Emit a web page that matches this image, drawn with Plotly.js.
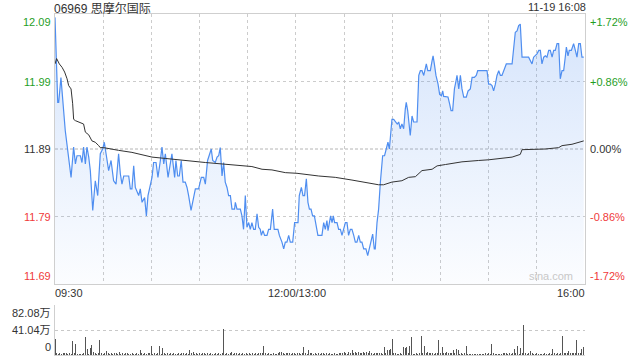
<!DOCTYPE html>
<html><head><meta charset="utf-8">
<script src="https://cdn.plot.ly/plotly-3.0.1.min.js"></script>
<style>html,body{margin:0;padding:0;background:#fff;}#chart{width:640px;height:360px;}</style>
</head><body><div id="chart"></div>
<script>
const stockTitle = '06969 思摩尔国际';
const stampText = '11-19 16:08';
const watermark = 'sina.com';
const prevClose = 11.89;

// minutes since 09:30 on a continuous trading axis (12:00 and 13:00 merged at 150)
const priceTime = [0,1.7,2.3,3.7,6.4,10.0,11.6,12.7,13.7,15.8,16.8,17.8,18.9,19.9,21.0,22.0,23.5,25.1,26.6,28.2,29.7,30.7,31.8,33.4,34.9,36.5,38.0,39.6,40.7,41.7,42.8,45.9,46.9,47.9,49.0,50.0,52.1,53.1,54.2,55.8,56.9,57.9,60.4,61.4,62.9,64.1,65.6,66.6,67.7,68.7,70.4,71.8,72.8,74.5,75.3,76.4,77.4,78.6,79.7,81.1,82.2,83.2,84.7,86.3,87.4,89.4,91.1,92.6,93.6,95.0,96.1,97.3,98.2,99.8,100.9,101.9,102.9,104.0,105.0,106.0,107.1,108.1,109.2,110.2,111.8,112.3,113.3,115.4,116.4,117.4,118.5,119.5,120.6,121.6,122.6,123.7,124.7,125.8,126.8,127.8,128.5,129.5,130.5,132.0,133.0,134.1,135.5,136.5,138.8,139.7,141.3,142.4,143.4,144.4,145.5,146.5,148.0,149.2,151.3,152.1,153.4,154.4,155.4,156.5,157.5,158.4,159.4,160.4,161.5,162.5,163.7,166.2,167.3,168.3,169.3,170.0,170.8,171.6,172.5,173.3,174.1,175.6,176.6,177.7,178.7,179.7,180.8,181.8,182.8,183.9,184.9,186.0,187.0,188.0,189.1,190.1,191.1,192.2,193.6,194.7,195.7,196.7,197.8,198.8,199.4,200.5,201.5,202.6,204.0,205.2,206.3,207.3,208.2,208.8,209.8,210.9,211.9,213.1,214.0,215.0,216.0,217.1,218.1,218.7,219.6,220.2,221.2,222.3,223.3,225.4,226.5,227.5,228.5,229.6,230.6,231.2,232.1,233.7,234.8,235.4,236.2,237.2,238.5,239.5,240.6,241.4,242.0,244.7,245.7,246.6,247.6,248.7,249.7,250.3,251.4,252.4,253.4,254.5,256.1,257.2,258.6,259.7,261.1,262.3,263.2,269.0,270.0,271.1,272.1,273.1,274.2,275.2,276.3,277.3,278.3,279.4,281.0,284.6,285.6,286.6,287.7,288.7,289.7,290.8,294.9,296.0,297.0,298.0,300.1,301.2,302.2,303.2,304.3,305.3,306.3,307.4,308.4,309.5,310.5,311.5,312.6,313.6,314.6,315.7,316.7,317.7,318.4,319.4,320.2,321.5,322.9,324.0,325.0,326.1,327.1,328.1,329.2];
const priceValue = [12.085,11.959,11.959,11.996,11.917,11.848,11.893,11.868,11.880,11.880,11.870,11.893,11.868,11.893,11.878,11.858,11.799,11.843,11.821,11.883,11.890,11.900,11.883,11.858,11.873,11.843,11.838,11.883,11.853,11.838,11.850,11.850,11.831,11.831,11.865,11.833,11.821,11.831,11.811,11.818,11.791,11.821,11.848,11.870,11.870,11.848,11.873,11.893,11.868,11.883,11.848,11.870,11.883,11.848,11.873,11.850,11.850,11.873,11.841,11.841,11.833,11.821,11.799,11.818,11.831,11.831,11.848,11.848,11.838,11.873,11.880,11.890,11.873,11.870,11.878,11.880,11.892,11.850,11.870,11.841,11.833,11.821,11.821,11.801,11.801,11.811,11.801,11.801,11.791,11.771,11.821,11.774,11.781,11.771,11.781,11.771,11.771,11.794,11.774,11.771,11.762,11.769,11.762,11.762,11.771,11.771,11.801,11.771,11.771,11.762,11.752,11.742,11.752,11.752,11.762,11.752,11.752,11.781,11.781,11.821,11.833,11.821,11.821,11.846,11.811,11.801,11.801,11.791,11.791,11.776,11.762,11.762,11.781,11.771,11.784,11.769,11.781,11.791,11.781,11.791,11.781,11.781,11.771,11.771,11.762,11.771,11.781,11.781,11.762,11.771,11.771,11.762,11.752,11.752,11.762,11.752,11.752,11.742,11.742,11.732,11.742,11.752,11.764,11.742,11.742,11.781,11.801,11.841,11.880,11.880,11.890,11.900,11.890,11.910,11.934,11.934,11.930,11.927,11.930,11.920,11.927,11.920,11.949,11.959,11.947,11.930,11.910,11.939,11.930,11.930,11.999,12.006,12.006,11.999,12.009,12.016,12.006,12.006,12.021,12.028,12.016,11.999,11.986,11.971,11.969,11.976,11.968,11.967,11.957,11.947,11.947,11.979,11.991,11.999,11.979,11.999,11.979,11.967,11.967,11.976,11.979,11.996,11.996,11.999,12.006,12.006,11.986,11.986,11.984,11.976,11.986,11.999,12.006,11.999,11.999,12.006,12.016,12.016,12.041,12.063,12.065,12.073,12.075,12.026,12.026,12.021,12.016,12.026,12.031,12.036,12.036,12.016,12.026,12.028,12.026,12.036,12.036,12.026,12.036,12.036,12.046,12.046,11.994,12.006,12.006,12.026,12.041,12.028,12.036,12.036,12.046,12.036,12.026,12.046,12.046,12.026,12.026];

const avgTime = [0,1.0,2.7,4.4,6.0,7.5,8.5,10.0,11.0,11.6,12.7,14.7,17.8,18.9,21.0,23.0,25.1,27.2,28.2,30.3,33.4,39.6,47.9,53.1,60.4,68.7,79.1,85.3,93.6,104,114.3,122.6,128.9,135.1,143.4,150.7,164.2,174.5,184.9,195.3,201.5,204.6,209.8,216,220.2,224.4,228.5,234.8,237.9,243.1,253.4,263.8,270,284.6,289.7,290.8,305.3,313.6,315.7,321.9,329.2];
const avgValue = [12.016,12.024,12.016,12.011,12.004,11.994,11.984,11.979,11.957,11.934,11.932,11.930,11.927,11.915,11.911,11.902,11.900,11.895,11.892,11.892,11.891,11.888,11.885,11.882,11.878,11.876,11.874,11.872,11.870,11.868,11.865,11.864,11.860,11.859,11.855,11.854,11.850,11.848,11.844,11.839,11.837,11.837,11.841,11.843,11.848,11.849,11.858,11.860,11.865,11.867,11.871,11.873,11.874,11.878,11.882,11.889,11.890,11.892,11.895,11.897,11.902];

// volume per minute (万股), minute 0 .. 330
const volume = [
26,3,2,4,2,4,3,4,2,3, 2,23,3,18,1,2,2,1,3,29.5, 10,2,11.5,16,5,4,2,3,24.6,3,
2,4,6,3,2,4,2,3,4,2, 5,2,3,2,4,3,2,2,3,1, 2,3,2,8,3,2,3,2,4,3,
15,2,3,2,3,15,2,11,4,2, 3,2,3,2,4,2,2,3,2,3, 4,2,3,2,8,4,5,2,3,2,
3,2,3,4,2,3,2,3,2,2, 3,2,3,2,3,42,2,3,2,3, 5,2,4,3,2,3,2,4,2,3,
2,4,2,3,2,3,2,3,3,4, 15,3,2,3,2,2,3,2,2,3, 5,5,3,2,4,3,3,2,3,3,
2,4,3,2,3,13,3,2,8,4, 3,2,3,2,3,2,3,3,2,3, 2,3,2,2,3,2,2,4,4,3,
5,3,2,5,4,9,4,5,4,5, 4,3,5,4,5,3,6,3,2,3, 4,3,4,3,2,13,3,8,9,10,
26,4,3,2,2,3,2,13,11.5,13, 3,15,29.5,2,2,3,2,3,31,4, 15,3,5,3,4,3,2,3,4,24.6,
3,13,3,4,5,3,4,3,8,4, 10,8,2,3,2,3,15,2,2,1, 2,1,2,1,2,2,1,2,3,2,
3,2,18,3,2,2,1,2,2,3, 4,3,2,3,2,4,10,3,15,2, 11.5,3,49,4,2,3,6.5,3,2,2,
3,1,2,2,1,3,2,2,3,2, 10,3,2,3,2,3,31,3,4,3, 6.5,3,4,3,3,24.6,3,4,10,13,82.08];
const volumeTime = volume.map((v, i) => i);

const priceTicks = [12.09, 11.99, 11.89, 11.79, 11.69];
const priceTickText = ['12.09', '11.99', '11.89', '11.79', '11.69'];
const pctTickText = ['+1.72%', '+0.86%', '0.00%', '-0.86%', '-1.72%'];
const volTicks = [82.08, 41.04, 0];
const volTickText = ['82.08万', '41.04万', '0'];
const timeTicks = [0, 150, 330];
const timeTickText = ['09:30', '12:00/13:00', '16:00'];

const FONT = 'Arial, "Liberation Sans", "Noto Sans CJK SC", sans-serif';
const GREEN = '#1f9e1f', RED = '#f03a3a', DARK = '#333333';
function tickColor(v) { return v > prevClose + 1e-9 ? GREEN : (v < prevClose - 1e-9 ? RED : DARK); }
function vAnchor(i, n) { return i === 0 ? 'top' : (i === n - 1 ? 'bottom' : 'middle'); }

const annotations = [];
priceTicks.forEach((v, i) => {
  const anchor = vAnchor(i, priceTicks.length);
  annotations.push({xref: 'paper', x: 0, xanchor: 'right', xshift: -2, yref: 'y', y: v, yanchor: anchor,
    text: priceTickText[i], showarrow: false, font: {family: FONT, size: 11, color: tickColor(v)}});
  annotations.push({xref: 'paper', x: 1, xanchor: 'left', xshift: 3, yref: 'y', y: v, yanchor: anchor,
    text: pctTickText[i], showarrow: false, font: {family: FONT, size: 11, color: tickColor(v)}});
});
volTicks.forEach((v, i) => {
  annotations.push({xref: 'paper', x: 0, xanchor: 'right', xshift: -2, yref: 'y2', y: v, yanchor: vAnchor(i, volTicks.length),
    text: volTickText[i], showarrow: false, font: {family: FONT, size: 11, color: DARK}});
});
timeTicks.forEach((t, i) => {
  annotations.push({xref: 'x', x: t, xanchor: i === 0 ? 'left' : (i === timeTicks.length - 1 ? 'right' : 'center'),
    xshift: i === 0 ? -2 : (i === timeTicks.length - 1 ? 2 : 1),
    yref: 'y', y: 11.69, yanchor: 'top', yshift: -1, text: timeTickText[i], showarrow: false,
    font: {family: FONT, size: 11, color: DARK}});
});
annotations.push({xref: 'paper', x: 0, xanchor: 'left', xshift: -2, yref: 'paper', y: 1, yanchor: 'top', yshift: 14,
  borderpad: 0, text: stockTitle, showarrow: false, font: {family: FONT, size: 12, color: DARK}});
annotations.push({xref: 'paper', x: 1, xanchor: 'right', xshift: 2, yref: 'paper', y: 1, yanchor: 'top', yshift: 14,
  borderpad: 0, text: stampText, showarrow: false, font: {family: FONT, size: 11, color: DARK}});
annotations.push({xref: 'paper', x: 1, xanchor: 'right', xshift: -10, yref: 'y', y: 11.69, yanchor: 'bottom',
  text: watermark, showarrow: false, font: {family: FONT, size: 11, color: '#c8c8c8'}});

const traces = [
  {type: 'scatter', mode: 'lines', x: priceTime, y: priceValue, xaxis: 'x', yaxis: 'y',
   line: {color: '#4f8ef0', width: 1.2}, fill: 'tozeroy', fillcolor: 'rgba(79,142,240,0.15)',
   fillgradient: {type: 'vertical', start: 11.69, stop: 12.09,
     colorscale: [[0, 'rgba(79,142,240,0.02)'], [1, 'rgba(79,142,240,0.24)']]},
   hoverinfo: 'skip'},
  {type: 'scatter', mode: 'lines', x: avgTime, y: avgValue, xaxis: 'x', yaxis: 'y',
   line: {color: '#333333', width: 1}, hoverinfo: 'skip'},
  {type: 'bar', x: volumeTime, y: volume, xaxis: 'x2', yaxis: 'y2', width: 0.62,
   marker: {color: '#555555', line: {width: 0}}, hoverinfo: 'skip'}
];

const layout = {
  width: 640, height: 360,
  margin: {l: 55, r: 55, t: 14, b: 5},
  paper_bgcolor: '#ffffff', plot_bgcolor: '#ffffff',
  showlegend: false, bargap: 0,
  font: {family: FONT, size: 11, color: DARK},
  xaxis: {domain: [0, 1], anchor: 'y', range: [0, 330], tick0: 0, dtick: 30, showticklabels: false,
    showgrid: true, gridcolor: '#cccccc', griddash: 'dot', gridwidth: 1, zeroline: false,
    showline: true, mirror: true, linecolor: '#cfcfcf', linewidth: 1, ticks: ''},
  yaxis: {domain: [0.2082, 1], anchor: 'x', range: [11.69, 12.09], tickvals: [11.79, 11.99], showticklabels: false,
    showgrid: true, gridcolor: '#cccccc', griddash: 'dot', gridwidth: 1, zeroline: false,
    showline: true, mirror: true, linecolor: '#cfcfcf', linewidth: 1, ticks: ''},
  xaxis2: {domain: [0, 1], anchor: 'y2', range: [0, 330], showticklabels: false, showgrid: false,
    zeroline: false, showline: true, linecolor: '#d6d6d6', linewidth: 1, ticks: ''},
  yaxis2: {domain: [0, 0.1466], anchor: 'x2', range: [0, 82.08], tickvals: [41.04, 82.08], showticklabels: false,
    showgrid: true, gridcolor: '#c8c8c8', griddash: 'dot', gridwidth: 1, zeroline: false,
    showline: true, linecolor: '#cfcfcf', linewidth: 1, ticks: ''},
  shapes: [{type: 'line', xref: 'x', yref: 'y', x0: 0, x1: 330, y0: prevClose, y1: prevClose,
    line: {color: '#b4b4b4', width: 1, dash: '3px,2px'}, layer: 'below'}],
  annotations: annotations
};

Plotly.newPlot('chart', traces, layout, {staticPlot: true, displayModeBar: false});
</script>
</body></html>
